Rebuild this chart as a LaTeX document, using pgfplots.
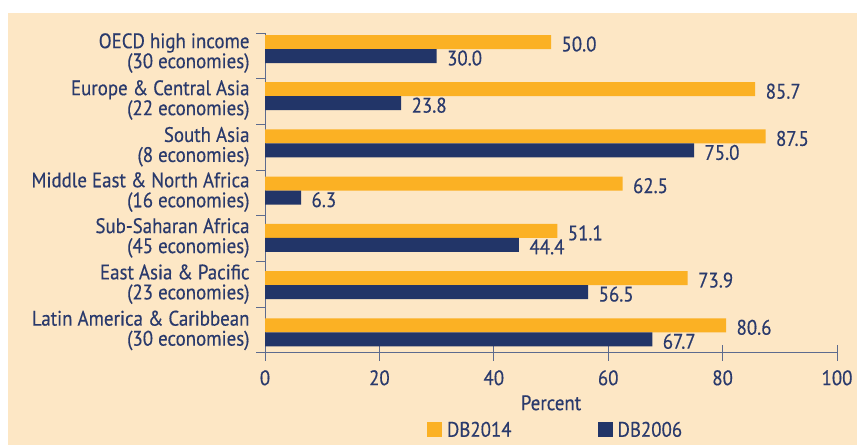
\documentclass[border=0pt]{standalone}
\usepackage{fontspec}
\setmainfont{PT Sans}[FakeStretch=0.9, FakeBold=0.35]
\usepackage{pgfplots}
\pgfplotsset{compat=1.18}
\usepackage{pgfplotstable}
\definecolor{bg}{HTML}{FDE7C5}
\definecolor{dborange}{HTML}{FBB124}
\definecolor{dbnavy}{HTML}{223568}
\definecolor{txt}{HTML}{2A3A6C}
\definecolor{axisc}{HTML}{5D6B8E}
\newcommand\lbl{\fontsize{21bp}{20bp}\selectfont}
\pgfplotsset{sqlegend/.style={legend image code/.code={\fill[##1] (0bp,-7.5bp) rectangle (15bp,7.5bp);}}}

\pgfplotstableread{
idx v2014 v2006
0 50.0 30.0
1 85.7 23.8
2 87.5 75.0
3 62.5 6.3
4 51.1 44.4
5 73.9 56.5
6 80.6 67.7
}\data

\begin{document}
\begin{tikzpicture}[x=1bp,y=1bp]
\path[use as bounding box] (0,0) rectangle (857,445);
\fill[bg] (8,0) rectangle (857,432);
\begin{axis}[
  at={(265bp,92.3bp)}, anchor=south west,
  scale only axis, width=572bp, height=319.4bp,
  xbar, bar width=14bp,
  xmin=0, xmax=100,
  ymin=-0.333, ymax=6.431, y dir=reverse,
  axis lines*=left,
  axis line style={-, draw=axisc, line width=1bp},
  xtick={0,20,40,60,80,100},
  ytick={0.085,1.08,2.07,3.03,4.0,4.98,5.96},
  yticklabels={{OECD high income\\(30 economies)},
               {Europe \& Central Asia\\(22 economies)},
               {South Asia\\(8 economies)},
               {Middle East \& North Africa\\(16 economies)},
               {Sub-Saharan Africa\\(45 economies)},
               {East Asia \& Pacific\\(23 economies)},
               {Latin America \& Caribbean\hspace{4bp}\\(30 economies)}},
  minor ytick={-0.333,0.633,1.599,2.566,3.532,4.498,5.465,6.431},
  major y tick style={draw=none},
  minor y tick style={draw=axisc, line width=1bp},
  major x tick style={draw=axisc, line width=1bp},
  xtick align=center, ytick align=outside,
  major tick length=16bp, minor tick length=9bp,
  /pgf/number format/assume math mode=true,
  tick label style={font=\lbl, text=txt},
  yticklabel style={align=right, xshift=4bp},
  xticklabel style={yshift=-6bp},
  xlabel={Percent},
  xlabel style={font=\lbl, text=txt, yshift=-3bp},
  nodes near coords={\pgfmathprintnumber[fixed,fixed zerofill,precision=1,assume math mode=true]{\pgfplotspointmeta}},
  every node near coord/.append style={font=\lbl, text=txt, xshift=7bp, yshift=-2bp},
  legend columns=2,
  legend style={at={(0.508,-0.242)}, anchor=center, draw=none, fill=none,
    font=\lbl, text=txt,
    /tikz/every odd column/.append style={column sep=3bp},
    /tikz/every even column/.append style={column sep=84bp}},
]
\addplot[fill=dborange, draw=none, bar shift=7bp, sqlegend] table[x=v2014, y=idx] {\data};
\addlegendentry{DB2014}
\addplot[fill=dbnavy, draw=none, bar shift=-7bp, sqlegend] table[x=v2006, y=idx] {\data};
\addlegendentry{DB2006}
\end{axis}
\end{tikzpicture}
\end{document}
